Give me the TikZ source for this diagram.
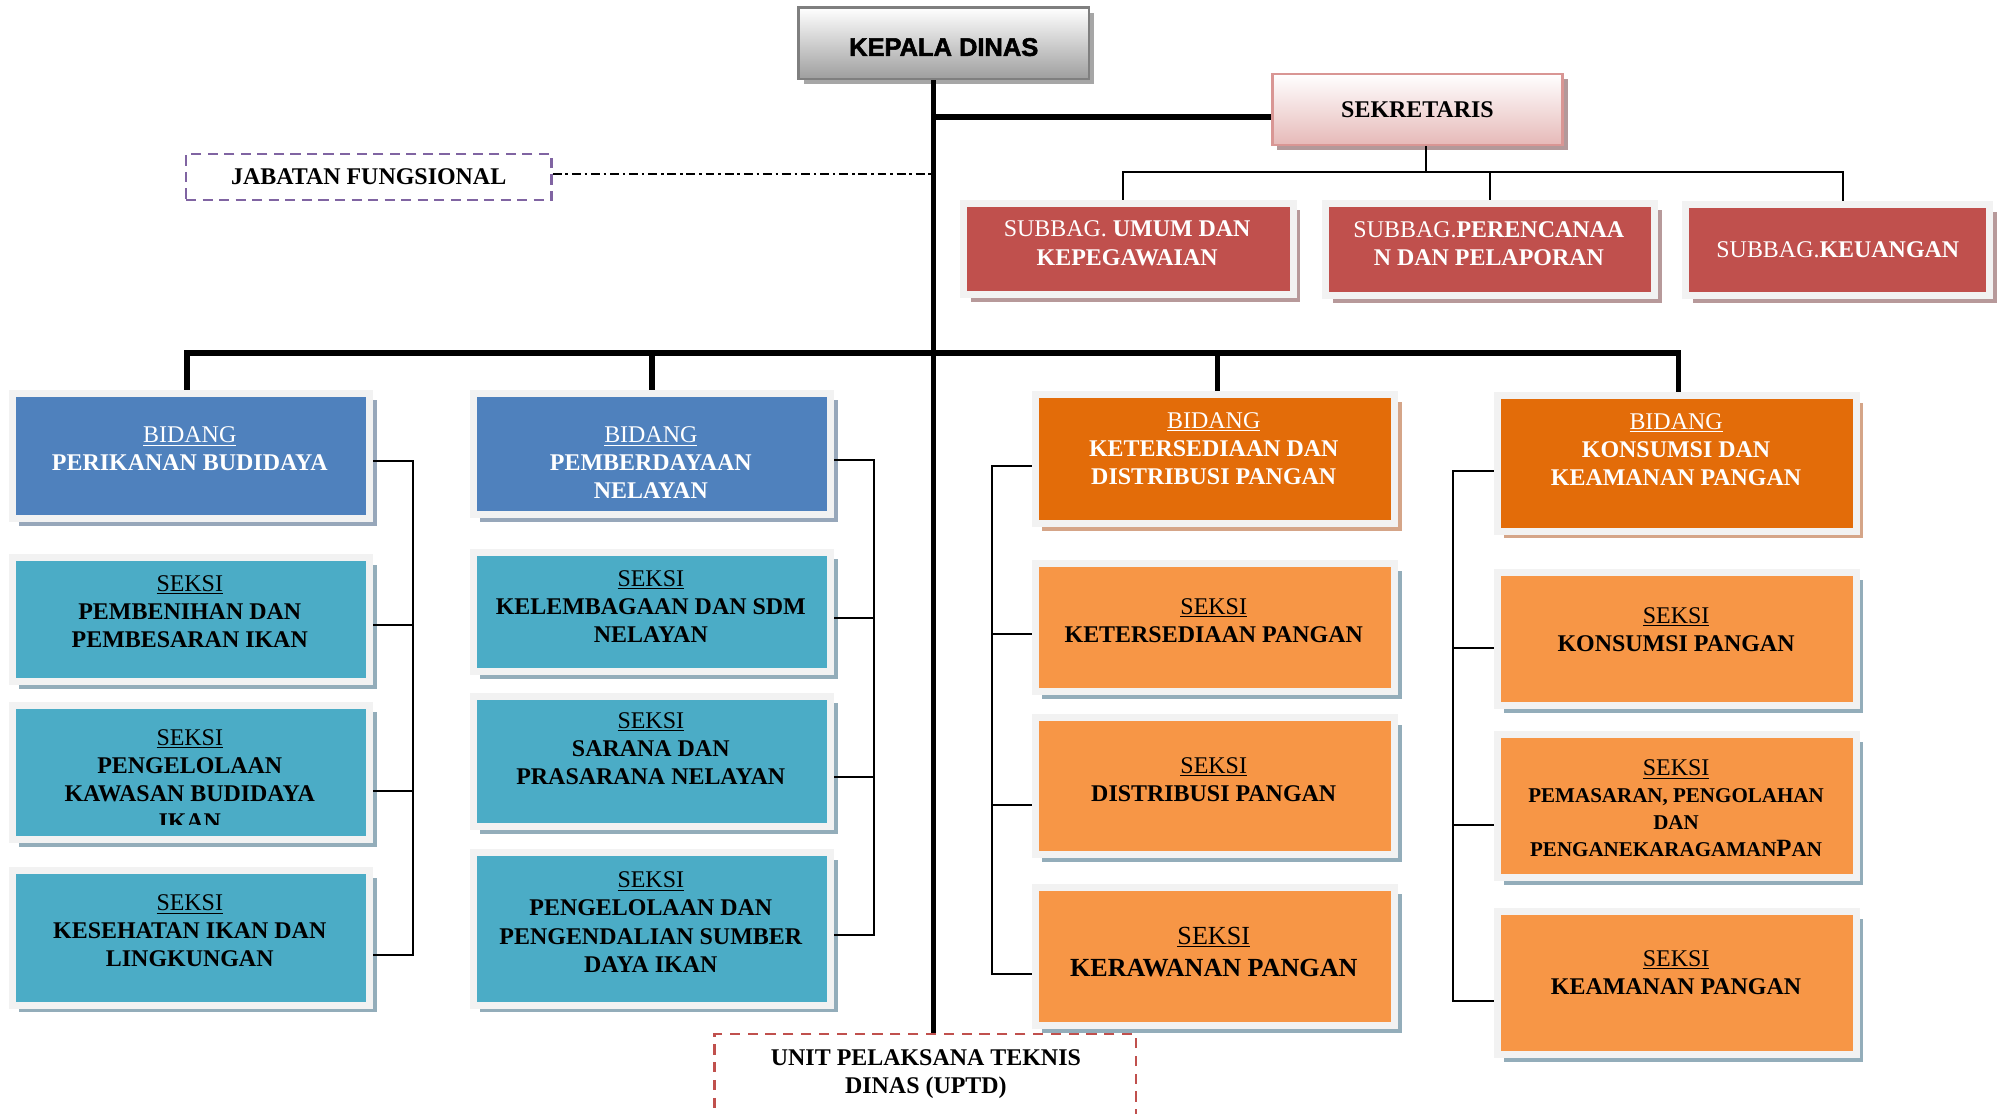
\documentclass[tikz,border=0pt]{standalone}
\usepackage{fontspec}
\setmainfont{Liberation Serif}
\newfontfamily\kdfont[BoldFeatures={FakeBold=2}]{Liberation Sans}
\usetikzlibrary{shadows}
\definecolor{frameG}{HTML}{F2F2F2}
\definecolor{subRed}{HTML}{C0504D}
\definecolor{bidBlue}{HTML}{4F81BD}
\definecolor{sekTeal}{HTML}{4BACC6}
\definecolor{bidOrg}{HTML}{E36C09}
\definecolor{sekOrg}{HTML}{F79646}
\definecolor{kdBorder}{HTML}{7F7F7F}
\definecolor{kdGray}{HTML}{9E9E9E}
\definecolor{kdShadow}{HTML}{A6A6A6}
\definecolor{sekBorder}{HTML}{D99694}
\definecolor{sekPink}{HTML}{E6B9B8}
\definecolor{sekShadow}{HTML}{B3999A}
\definecolor{jabPurple}{HTML}{8064A2}
\definecolor{shBlue}{HTML}{97A7BA}
\definecolor{shTeal}{HTML}{93ADBA}
\definecolor{shTan}{HTML}{D5A588}
\definecolor{shRed}{HTML}{B7999A}
\newcommand\mySeksi{{\mdseries\underline{SEKSI}}}
\newcommand\myBidang{{\mdseries\underline{BIDANG}}}
\begin{document}
\begin{tikzpicture}[x=1pt,y=-1pt,
  fr/.style={draw=frameG,line width=5.5pt,inner sep=0pt},
  shd/.style={drop shadow={shadow xshift=5.5pt,shadow yshift=-5.5pt,fill=#1,opacity=1}},
  bblue/.style={fr,fill=bidBlue,shd=shBlue,minimum width=280.5pt},
  steal/.style={fr,fill=sekTeal,shd=shTeal,minimum width=280.5pt},
  borg/.style={fr,fill=bidOrg,shd=shTan,minimum width=282pt},
  sorg/.style={fr,fill=sekOrg,shd=shTeal,minimum width=282pt},
  sred/.style={fr,fill=subRed,shd=shRed},
  btxt/.style={align=center,inner sep=0pt,font=\fontsize{18.8}{22}\selectfont\bfseries},
  wtxt/.style={btxt,text=white},
  thickln/.style={line width=4.5pt},
  thinln/.style={line width=1.5pt},
]
\useasboundingbox (0,0) rectangle (1568,874);
\fill[white] (0,0) rectangle (1568,874);
\clip (0,0) rectangle (1568,874);

% top
\node[draw=kdBorder,line width=2pt,top color=white,bottom color=kdGray,
  minimum width=228pt,minimum height=56pt,inner sep=0pt,
  drop shadow={shadow xshift=4pt,shadow yshift=-4pt,fill=kdShadow,opacity=1}] (kd) at (741,34) {};
\node[font=\kdfont\bfseries\fontsize{20}{24}\selectfont,inner sep=0pt] (kdt) at (741,37) {KEPALA DINAS};
\node[draw=sekBorder,line width=2pt,top color=white,bottom color=sekPink,
  minimum width=228pt,minimum height=56pt,inner sep=0pt,
  drop shadow={shadow xshift=4pt,shadow yshift=-4pt,fill=sekShadow,opacity=1},
  font=\fontsize{18.8}{22}\selectfont\bfseries] (sek) at (1113,86) {SEKRETARIS};
\node[draw=jabPurple,line width=2pt,dash pattern=on 8pt off 5pt,
  minimum width=287pt,minimum height=36pt,inner sep=0pt,
  font=\fontsize{18.8}{22}\selectfont\bfseries] (jab) at (289.5,139) {JABATAN FUNGSIONAL};

% subbag
\node[sred,minimum width=258.5pt,minimum height=71.5pt] (sb1) at (886,195.5) {};
\node[sred,minimum width=258.5pt,minimum height=72.5pt] (sb2) at (1170,196) {};
\node[sred,minimum width=238.5pt,minimum height=71.5pt] (sb3) at (1443,196.5) {};
\node[wtxt] (tsb1) at (885,191) {\mdseries SUBBAG. \textbf{UMUM DAN}\\KEPEGAWAIAN};
\node[wtxt] (tsb2) at (1169,191) {\mdseries SUBBAG.\textbf{PERENCANAA}\\N DAN PELAPORAN};
\node[wtxt] (tsb3) at (1443,196) {\mdseries SUBBAG.\textbf{KEUANGAN}};

% column 1
\node[bblue,minimum height=98.5pt] (b1) at (150,358) {};
\node[steal,minimum height=97.5pt] (s11) at (150,486.5) {};
\node[steal,minimum height=105.5pt] (s12) at (150,606.5) {};
\node[steal,minimum height=105.5pt] (s13) at (150,736.5) {};
\node[wtxt] (tb1) at (149,352.5) {\myBidang\\PERIKANAN BUDIDAYA};
\node[btxt] (t11) at (149,480) {\mySeksi\\PEMBENIHAN DAN\\PEMBESARAN IKAN};
\begin{scope}
\clip (12,557) rectangle (288,647);
\node[btxt] (t12) at (149,612) {\mySeksi\\PENGELOLAAN\\KAWASAN BUDIDAYA\\IKAN};
\end{scope}
\node[btxt] (t13) at (149,731) {\mySeksi\\KESEHATAN IKAN DAN\\LINGKUNGAN};

% column 2
\node[bblue,minimum height=95.5pt] (b2) at (512,356.5) {};
\node[steal,minimum height=93.5pt] (s21) at (512,480.5) {};
\node[steal,minimum height=102.5pt] (s22) at (512,598) {};
\node[steal,minimum height=119.5pt] (s23) at (512,729.5) {};
\node[wtxt] (tb2) at (511,363.5) {\myBidang\\PEMBERDAYAAN\\NELAYAN};
\node[btxt] (t21) at (511,476) {\mySeksi\\KELEMBAGAAN DAN SDM\\NELAYAN};
\node[btxt] (t22) at (511,588) {\mySeksi\\SARANA DAN\\PRASARANA NELAYAN};
\node[btxt] (t23) at (511,724) {\mySeksi\\PENGELOLAAN DAN\\PENGENDALIAN SUMBER\\DAYA IKAN};

% column 3
\node[borg,minimum height=101.5pt] (b3) at (954,360.5) {};
\node[sorg,minimum height=100.5pt] (s31) at (954,493) {};
\node[sorg,minimum height=107.5pt] (s32) at (954,617.5) {};
\node[sorg,minimum height=108.5pt] (s33) at (954,751) {};
\node[wtxt] (tb3) at (953,352) {\myBidang\\KETERSEDIAAN DAN\\DISTRIBUSI PANGAN};
\node[btxt] (t31) at (953,487) {\mySeksi\\KETERSEDIAAN PANGAN};
\node[btxt] (t32) at (953,612) {\mySeksi\\DISTRIBUSI PANGAN};
\node[btxt,font=\fontsize{20.5}{25}\selectfont\bfseries] (t33) at (953,747.5) {\mySeksi\\KERAWANAN PANGAN};

% column 4
\node[borg,minimum height=106.5pt] (b4) at (1316.5,364) {};
\node[sorg,minimum height=104.5pt] (s41) at (1316.5,502) {};
\node[sorg,minimum height=112.5pt] (s42) at (1316.5,633) {};
\node[sorg,minimum height=112.5pt] (s43) at (1316.5,772) {};
\node[wtxt] (tb4) at (1316,353) {\myBidang\\KONSUMSI DAN\\KEAMANAN PANGAN};
\node[btxt] (t41) at (1316,494.5) {\mySeksi\\KONSUMSI PANGAN};
\node[btxt,font=\fontsize{16.5}{21}\selectfont\bfseries] (t42) at (1316,634.5)
  {{\fontsize{18.8}{21}\selectfont\mySeksi}\\PEMASARAN, PENGOLAHAN\\DAN\\PENGANEKARAGAMAN{\fontsize{19.5}{21}\selectfont P}AN};
\node[btxt] (t43) at (1316,763.5) {\mySeksi\\KEAMANAN PANGAN};

% UPTD
\node[draw=subRed,line width=2pt,dash pattern=on 8pt off 6pt,
  minimum width=331pt,minimum height=100pt,inner sep=0pt] (uptd) at (726.5,862) {};
\node[btxt] (tuptd) at (727,843) {UNIT PELAKSANA TEKNIS\\DINAS (UPTD)};

% connectors
\coordinate (tx) at (733,0);
\draw[thickln] (kd.south -| tx) -- (uptd.north -| tx);
\coordinate (sekin) at ([yshift=-6pt]sek.west);
\draw[thickln] (sekin -| tx) -- (sekin);
\coordinate (jabout) at ([yshift=2.5pt]jab.east);
\draw[line width=1.8pt,dash pattern=on 7pt off 3pt on 2pt off 3pt] (jabout) -- (jabout -| tx);

\coordinate (sbus) at (1120,135);
\draw[thinln] ([xshift=7pt]sek.south) -- (sbus);
\draw[thinln] ([xshift=-4pt]sb1.north) -- ([xshift=-4pt]sb1.north |- sbus) -- ([xshift=4pt]sb3.north |- sbus) -- ([xshift=4pt]sb3.north);
\draw[thinln] (sb2.north |- sbus) -- (sb2.north);

\coordinate (bus) at (733,277);
\draw[thickln] ([xshift=-3pt]b1.north) -- ([xshift=-3pt]b1.north |- bus) -- ([xshift=1.5pt]b4.north |- bus) -- ([xshift=1.5pt]b4.north);
\draw[thickln] (b2.north |- bus) -- (b2.north);
\draw[thickln] ([xshift=2pt]b3.north |- bus) -- ([xshift=2pt]b3.north);

% bracket column 1
\coordinate (k1) at (324,0);
\coordinate (c1a) at ([yshift=-4pt]b1.east);
\coordinate (c1b) at ([yshift=-4.5pt]s11.east);
\coordinate (c1c) at ([yshift=-14.5pt]s12.east);
\coordinate (c1d) at ([yshift=-13.5pt]s13.east);
\draw[thinln] (c1a) -- (c1a -| k1) -- (c1d -| k1) -- (c1d);
\draw[thinln] (c1b) -- (c1b -| k1);
\draw[thinln] (c1c) -- (c1c -| k1);

% bracket column 2
\coordinate (k2) at (686,0);
\coordinate (c2a) at ([yshift=-4.5pt]b2.east);
\coordinate (c2b) at ([yshift=-4.5pt]s21.east);
\coordinate (c2c) at ([yshift=-12pt]s22.east);
\coordinate (c2d) at ([yshift=-4.5pt]s23.east);
\draw[thinln] (c2a) -- (c2a -| k2) -- (c2d -| k2) -- (c2d);
\draw[thinln] (c2b) -- (c2b -| k2);
\draw[thinln] (c2c) -- (c2c -| k2);

% bracket column 3
\coordinate (k3) at (779,0);
\coordinate (c3a) at ([yshift=-5.5pt]b3.west);
\coordinate (c3b) at ([yshift=-5pt]s31.west);
\coordinate (c3c) at ([yshift=-14.5pt]s32.west);
\coordinate (c3d) at ([yshift=-14pt]s33.west);
\draw[thinln] (c3a) -- (c3a -| k3) -- (c3d -| k3) -- (c3d);
\draw[thinln] (c3b) -- (c3b -| k3);
\draw[thinln] (c3c) -- (c3c -| k3);

% bracket column 4
\coordinate (k4) at (1141,0);
\coordinate (c4a) at ([yshift=-6pt]b4.west);
\coordinate (c4b) at ([yshift=-7pt]s41.west);
\coordinate (c4c) at ([yshift=-15pt]s42.west);
\coordinate (c4d) at ([yshift=-14pt]s43.west);
\draw[thinln] (c4a) -- (c4a -| k4) -- (c4d -| k4) -- (c4d);
\draw[thinln] (c4b) -- (c4b -| k4);
\draw[thinln] (c4c) -- (c4c -| k4);
\end{tikzpicture}
\end{document}
